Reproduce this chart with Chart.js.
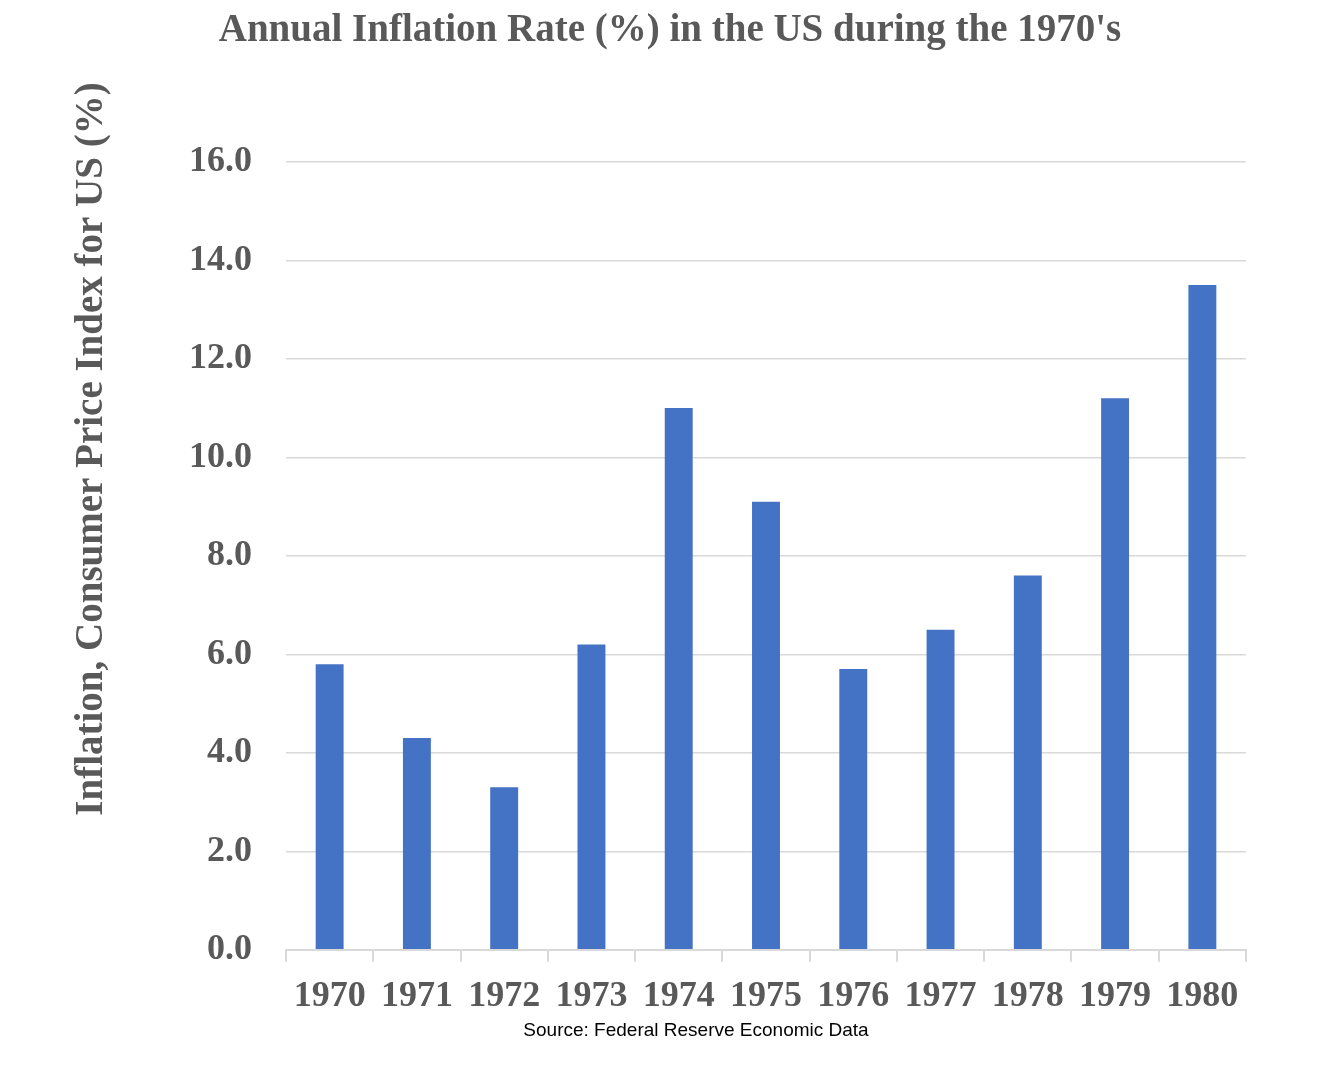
<!DOCTYPE html>
<html>
<head>
<meta charset="utf-8">
<script src="https://cdn.jsdelivr.net/npm/chart.js@4"></script>
<style>
  html, body { margin: 0; padding: 0; background: #fff; }
  #wrap { width: 1340px; height: 1066px; }
</style>
</head>
<body>
<div id="wrap"><canvas id="inflation-chart" width="1340" height="1066"></canvas></div>
<script>
const years = ["1970", "1971", "1972", "1973", "1974", "1975", "1976", "1977", "1978", "1979", "1980"];
const inflation = [5.8, 4.3, 3.3, 6.2, 11.0, 9.1, 5.7, 6.5, 7.6, 11.2, 13.5];
const titleText = "Annual Inflation Rate (%) in the US during the 1970's";
const yTitleText = "Inflation, Consumer Price Index for US (%)";
const sourceText = "Source: Federal Reserve Economic Data";

const grey = "#595959";
const serif = '"Liberation Serif", "DejaVu Serif", serif';

// y axis title and source note sit off-centre in the original, so draw them by hand
const extraText = {
    id: "extraText",
    afterDraw(chart) {
        const ctx = chart.ctx;
        ctx.save();
        ctx.fillStyle = grey;
        ctx.font = "bold 39px " + serif;
        ctx.textAlign = "center";
        ctx.textBaseline = "middle";
        ctx.translate(92, 449);
        ctx.rotate(-Math.PI / 2);
        ctx.fillText(yTitleText, 0, 0);
        ctx.restore();

        ctx.save();
        ctx.fillStyle = "#000";
        ctx.font = '19px "Liberation Sans", Arial, sans-serif';
        ctx.textAlign = "center";
        ctx.textBaseline = "middle";
        ctx.fillText(sourceText, 696, 1031);
        ctx.restore();
    }
};

new Chart(document.getElementById("inflation-chart"), {
    type: "bar",
    data: {
        labels: years,
        datasets: [{
            data: inflation,
            backgroundColor: "#4472C4",
            barPercentage: 0.32,
            categoryPercentage: 1.0
        }]
    },
    options: {
        responsive: false,
        animation: false,
        devicePixelRatio: 1,
        layout: { padding: { left: 94, right: 94, top: 0, bottom: 35 } },
        plugins: {
            legend: { display: false },
            tooltip: { enabled: false },
            title: {
                display: true,
                text: titleText,
                color: grey,
                font: { family: serif, size: 39, weight: "bold" },
                padding: { top: 8, bottom: 107 }
            }
        },
        scales: {
            x: {
                grid: {
                    display: true,
                    drawOnChartArea: false,
                    drawTicks: true,
                    tickLength: 12,
                    color: "#d9d9d9",
                    lineWidth: 2
                },
                border: { display: true, color: "#d9d9d9", width: 2 },
                ticks: {
                    color: grey,
                    padding: 13,
                    font: { family: serif, size: 36, weight: "bold" },
                    maxRotation: 0
                }
            },
            y: {
                min: 0,
                max: 16,
                afterFit(scale) { scale.width = 192; },
                grid: { color: "#d9d9d9", lineWidth: 1.5, drawTicks: false },
                border: { display: false },
                ticks: {
                    stepSize: 2,
                    color: grey,
                    padding: 34,
                    font: { family: serif, size: 36, weight: "bold" },
                    callback: function (v) { return v.toFixed(1); }
                }
            }
        }
    },
    plugins: [extraText]
});
</script>
</body>
</html>
